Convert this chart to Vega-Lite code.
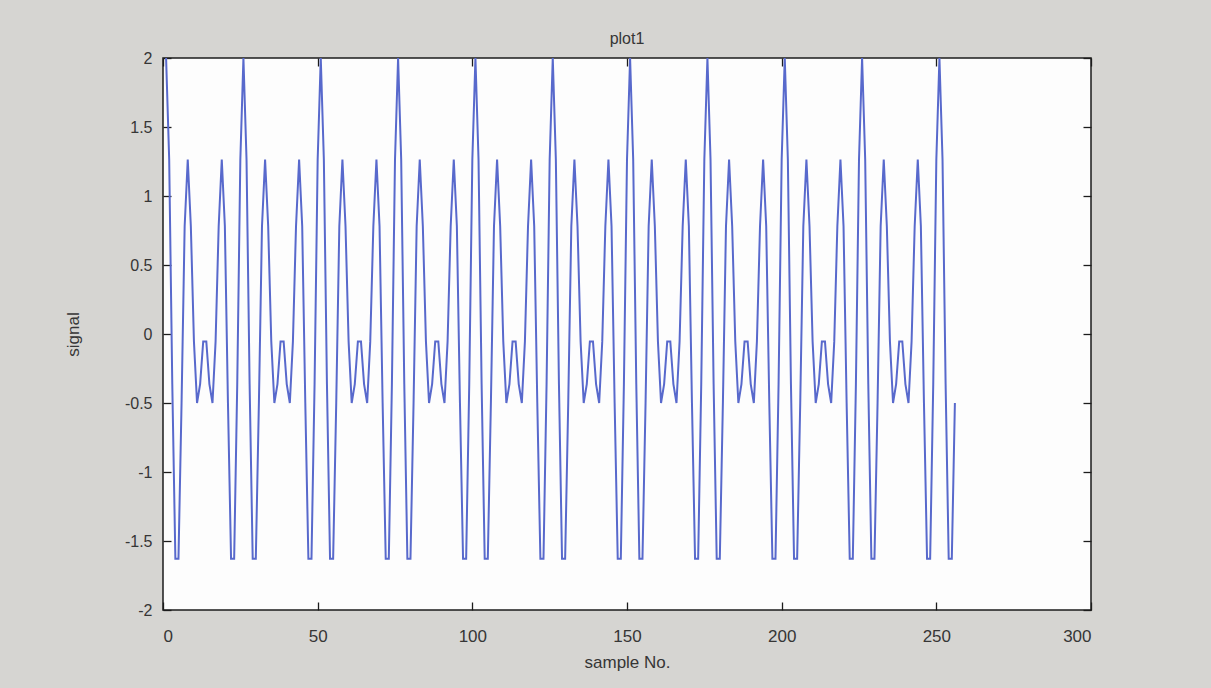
{
  "$schema": "https://vega.github.io/schema/vega-lite/v6.json",
  "width": 928,
  "height": 552,
  "autosize": {"type": "none"},
  "padding": {"left": 163, "top": 58, "right": 120, "bottom": 78},
  "background": "#d6d5d2",
  "title": {"text": "plot1", "font": "Liberation Sans", "fontSize": 16, "fontWeight": "normal", "color": "#363636", "offset": 3},
  "config": {
    "view": {"fill": "#fdfdfd", "stroke": "#1c1c1c", "strokeWidth": 1.5},
    "axis": {
      "domain": false,
      "grid": false,
      "ticks": true,
      "tickSize": -8,
      "tickColor": "#1c1c1c",
      "tickWidth": 1.3,
      "labelFont": "Liberation Sans",
      "labelFontSize": 16,
      "labelColor": "#363636",
      "titleFont": "Liberation Sans",
      "titleFontSize": 17,
      "titleFontWeight": "normal",
      "titleColor": "#363636"
    }
  },
  "data": {"values": [
    {"sample":1,"signal":2},{"sample":2,"signal":1.2648},{"sample":3,"signal":-0.363},{"sample":4,"signal":-1.6295},{"sample":5,"signal":-1.6295},
    {"sample":6,"signal":-0.5},{"sample":7,"signal":0.7812},{"sample":8,"signal":1.2648},{"sample":9,"signal":0.7812},{"sample":10,"signal":-0.0535},
    {"sample":11,"signal":-0.5},{"sample":12,"signal":-0.363},{"sample":13,"signal":-0.0535},{"sample":14,"signal":-0.0535},{"sample":15,"signal":-0.363},
    {"sample":16,"signal":-0.5},{"sample":17,"signal":-0.0535},{"sample":18,"signal":0.7812},{"sample":19,"signal":1.2648},{"sample":20,"signal":0.7812},
    {"sample":21,"signal":-0.5},{"sample":22,"signal":-1.6295},{"sample":23,"signal":-1.6295},{"sample":24,"signal":-0.363},{"sample":25,"signal":1.2648},
    {"sample":26,"signal":2},{"sample":27,"signal":1.2648},{"sample":28,"signal":-0.363},{"sample":29,"signal":-1.6295},{"sample":30,"signal":-1.6295},
    {"sample":31,"signal":-0.5},{"sample":32,"signal":0.7812},{"sample":33,"signal":1.2648},{"sample":34,"signal":0.7812},{"sample":35,"signal":-0.0535},
    {"sample":36,"signal":-0.5},{"sample":37,"signal":-0.363},{"sample":38,"signal":-0.0535},{"sample":39,"signal":-0.0535},{"sample":40,"signal":-0.363},
    {"sample":41,"signal":-0.5},{"sample":42,"signal":-0.0535},{"sample":43,"signal":0.7812},{"sample":44,"signal":1.2648},{"sample":45,"signal":0.7812},
    {"sample":46,"signal":-0.5},{"sample":47,"signal":-1.6295},{"sample":48,"signal":-1.6295},{"sample":49,"signal":-0.363},{"sample":50,"signal":1.2648},
    {"sample":51,"signal":2},{"sample":52,"signal":1.2648},{"sample":53,"signal":-0.363},{"sample":54,"signal":-1.6295},{"sample":55,"signal":-1.6295},
    {"sample":56,"signal":-0.5},{"sample":57,"signal":0.7812},{"sample":58,"signal":1.2648},{"sample":59,"signal":0.7812},{"sample":60,"signal":-0.0535},
    {"sample":61,"signal":-0.5},{"sample":62,"signal":-0.363},{"sample":63,"signal":-0.0535},{"sample":64,"signal":-0.0535},{"sample":65,"signal":-0.363},
    {"sample":66,"signal":-0.5},{"sample":67,"signal":-0.0535},{"sample":68,"signal":0.7812},{"sample":69,"signal":1.2648},{"sample":70,"signal":0.7812},
    {"sample":71,"signal":-0.5},{"sample":72,"signal":-1.6295},{"sample":73,"signal":-1.6295},{"sample":74,"signal":-0.363},{"sample":75,"signal":1.2648},
    {"sample":76,"signal":2},{"sample":77,"signal":1.2648},{"sample":78,"signal":-0.363},{"sample":79,"signal":-1.6295},{"sample":80,"signal":-1.6295},
    {"sample":81,"signal":-0.5},{"sample":82,"signal":0.7812},{"sample":83,"signal":1.2648},{"sample":84,"signal":0.7812},{"sample":85,"signal":-0.0535},
    {"sample":86,"signal":-0.5},{"sample":87,"signal":-0.363},{"sample":88,"signal":-0.0535},{"sample":89,"signal":-0.0535},{"sample":90,"signal":-0.363},
    {"sample":91,"signal":-0.5},{"sample":92,"signal":-0.0535},{"sample":93,"signal":0.7812},{"sample":94,"signal":1.2648},{"sample":95,"signal":0.7812},
    {"sample":96,"signal":-0.5},{"sample":97,"signal":-1.6295},{"sample":98,"signal":-1.6295},{"sample":99,"signal":-0.363},{"sample":100,"signal":1.2648},
    {"sample":101,"signal":2},{"sample":102,"signal":1.2648},{"sample":103,"signal":-0.363},{"sample":104,"signal":-1.6295},{"sample":105,"signal":-1.6295},
    {"sample":106,"signal":-0.5},{"sample":107,"signal":0.7812},{"sample":108,"signal":1.2648},{"sample":109,"signal":0.7812},{"sample":110,"signal":-0.0535},
    {"sample":111,"signal":-0.5},{"sample":112,"signal":-0.363},{"sample":113,"signal":-0.0535},{"sample":114,"signal":-0.0535},{"sample":115,"signal":-0.363},
    {"sample":116,"signal":-0.5},{"sample":117,"signal":-0.0535},{"sample":118,"signal":0.7812},{"sample":119,"signal":1.2648},{"sample":120,"signal":0.7812},
    {"sample":121,"signal":-0.5},{"sample":122,"signal":-1.6295},{"sample":123,"signal":-1.6295},{"sample":124,"signal":-0.363},{"sample":125,"signal":1.2648},
    {"sample":126,"signal":2},{"sample":127,"signal":1.2648},{"sample":128,"signal":-0.363},{"sample":129,"signal":-1.6295},{"sample":130,"signal":-1.6295},
    {"sample":131,"signal":-0.5},{"sample":132,"signal":0.7812},{"sample":133,"signal":1.2648},{"sample":134,"signal":0.7812},{"sample":135,"signal":-0.0535},
    {"sample":136,"signal":-0.5},{"sample":137,"signal":-0.363},{"sample":138,"signal":-0.0535},{"sample":139,"signal":-0.0535},{"sample":140,"signal":-0.363},
    {"sample":141,"signal":-0.5},{"sample":142,"signal":-0.0535},{"sample":143,"signal":0.7812},{"sample":144,"signal":1.2648},{"sample":145,"signal":0.7812},
    {"sample":146,"signal":-0.5},{"sample":147,"signal":-1.6295},{"sample":148,"signal":-1.6295},{"sample":149,"signal":-0.363},{"sample":150,"signal":1.2648},
    {"sample":151,"signal":2},{"sample":152,"signal":1.2648},{"sample":153,"signal":-0.363},{"sample":154,"signal":-1.6295},{"sample":155,"signal":-1.6295},
    {"sample":156,"signal":-0.5},{"sample":157,"signal":0.7812},{"sample":158,"signal":1.2648},{"sample":159,"signal":0.7812},{"sample":160,"signal":-0.0535},
    {"sample":161,"signal":-0.5},{"sample":162,"signal":-0.363},{"sample":163,"signal":-0.0535},{"sample":164,"signal":-0.0535},{"sample":165,"signal":-0.363},
    {"sample":166,"signal":-0.5},{"sample":167,"signal":-0.0535},{"sample":168,"signal":0.7812},{"sample":169,"signal":1.2648},{"sample":170,"signal":0.7812},
    {"sample":171,"signal":-0.5},{"sample":172,"signal":-1.6295},{"sample":173,"signal":-1.6295},{"sample":174,"signal":-0.363},{"sample":175,"signal":1.2648},
    {"sample":176,"signal":2},{"sample":177,"signal":1.2648},{"sample":178,"signal":-0.363},{"sample":179,"signal":-1.6295},{"sample":180,"signal":-1.6295},
    {"sample":181,"signal":-0.5},{"sample":182,"signal":0.7812},{"sample":183,"signal":1.2648},{"sample":184,"signal":0.7812},{"sample":185,"signal":-0.0535},
    {"sample":186,"signal":-0.5},{"sample":187,"signal":-0.363},{"sample":188,"signal":-0.0535},{"sample":189,"signal":-0.0535},{"sample":190,"signal":-0.363},
    {"sample":191,"signal":-0.5},{"sample":192,"signal":-0.0535},{"sample":193,"signal":0.7812},{"sample":194,"signal":1.2648},{"sample":195,"signal":0.7812},
    {"sample":196,"signal":-0.5},{"sample":197,"signal":-1.6295},{"sample":198,"signal":-1.6295},{"sample":199,"signal":-0.363},{"sample":200,"signal":1.2648},
    {"sample":201,"signal":2},{"sample":202,"signal":1.2648},{"sample":203,"signal":-0.363},{"sample":204,"signal":-1.6295},{"sample":205,"signal":-1.6295},
    {"sample":206,"signal":-0.5},{"sample":207,"signal":0.7812},{"sample":208,"signal":1.2648},{"sample":209,"signal":0.7812},{"sample":210,"signal":-0.0535},
    {"sample":211,"signal":-0.5},{"sample":212,"signal":-0.363},{"sample":213,"signal":-0.0535},{"sample":214,"signal":-0.0535},{"sample":215,"signal":-0.363},
    {"sample":216,"signal":-0.5},{"sample":217,"signal":-0.0535},{"sample":218,"signal":0.7812},{"sample":219,"signal":1.2648},{"sample":220,"signal":0.7812},
    {"sample":221,"signal":-0.5},{"sample":222,"signal":-1.6295},{"sample":223,"signal":-1.6295},{"sample":224,"signal":-0.363},{"sample":225,"signal":1.2648},
    {"sample":226,"signal":2},{"sample":227,"signal":1.2648},{"sample":228,"signal":-0.363},{"sample":229,"signal":-1.6295},{"sample":230,"signal":-1.6295},
    {"sample":231,"signal":-0.5},{"sample":232,"signal":0.7812},{"sample":233,"signal":1.2648},{"sample":234,"signal":0.7812},{"sample":235,"signal":-0.0535},
    {"sample":236,"signal":-0.5},{"sample":237,"signal":-0.363},{"sample":238,"signal":-0.0535},{"sample":239,"signal":-0.0535},{"sample":240,"signal":-0.363},
    {"sample":241,"signal":-0.5},{"sample":242,"signal":-0.0535},{"sample":243,"signal":0.7812},{"sample":244,"signal":1.2648},{"sample":245,"signal":0.7812},
    {"sample":246,"signal":-0.5},{"sample":247,"signal":-1.6295},{"sample":248,"signal":-1.6295},{"sample":249,"signal":-0.363},{"sample":250,"signal":1.2648},
    {"sample":251,"signal":2},{"sample":252,"signal":1.2648},{"sample":253,"signal":-0.363},{"sample":254,"signal":-1.6295},{"sample":255,"signal":-1.6295},
    {"sample":256,"signal":-0.5}
  ]},
  "layer": [
    {
      "mark": {"type": "line", "color": "#5869cc", "strokeWidth": 2},
      "encoding": {
        "x": {"field": "sample", "type": "quantitative", "scale": {"domain": [0, 300], "nice": false, "zero": false},
              "axis": {"orient": "bottom", "values": [0, 50, 100, 150, 200, 250, 300], "title": "sample No.", "labelFontSize": 17, "labelPadding": 26, "titlePadding": 10}},
        "y": {"field": "signal", "type": "quantitative", "scale": {"domain": [-2, 2], "nice": false, "zero": false},
              "axis": {"orient": "left", "values": [-2, -1.5, -1, -0.5, 0, 0.5, 1, 1.5, 2], "labelExpr": "toString(datum.value)", "title": "signal", "labelPadding": 19, "titlePadding": 42}}
      }
    },
    {
      "mark": {"type": "line", "strokeOpacity": 0},
      "encoding": {
        "x": {"field": "sample", "type": "quantitative", "axis": {"orient": "top", "values": [0, 50, 100, 150, 200, 250, 300], "labels": false, "title": null}},
        "y": {"field": "signal", "type": "quantitative", "axis": {"orient": "right", "values": [-2, -1.5, -1, -0.5, 0, 0.5, 1, 1.5, 2], "labels": false, "title": null}}
      }
    }
  ],
  "resolve": {"axis": {"x": "independent", "y": "independent"}}
}
